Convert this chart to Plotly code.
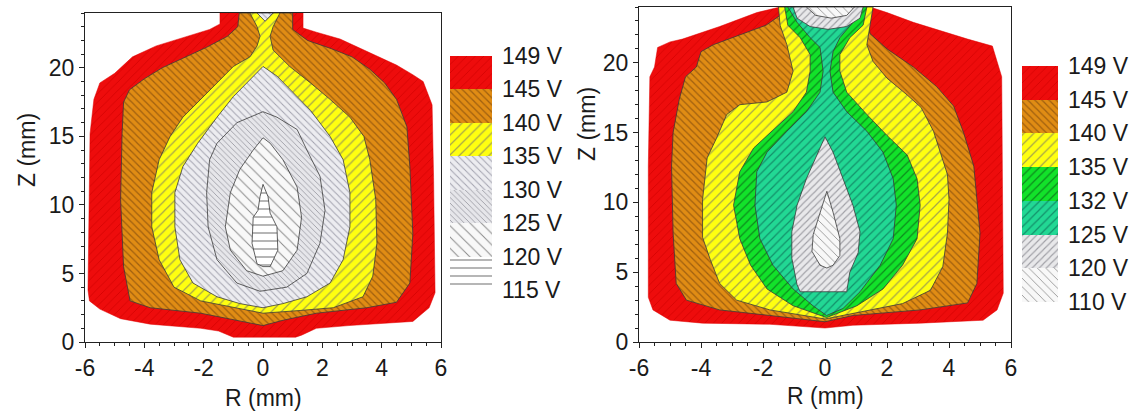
import plotly.graph_objects as go

# ================= DATA =================
# Left panel: contour outlines, R (mm) and Z (mm)
L149_R = [-1.45, -1.45, -1.8, -2.7, -3.6, -4.4, -5.0, -5.5, -5.7, -5.83, -5.85, -5.9, -5.85, -5.5, -4.8, -3.8, -2.1, -1.5, -1.0, 1.1, 1.3, 1.8, 2.9, 5.05, 5.6, 5.8, 5.75, 5.7, 5.4, 5.05, 4.5, 4.0, 3.3, 2.6, 1.8, 1.35, 1.35]
L149_Z = [24.0, 23.2, 22.8, 22.2, 21.6, 20.8, 19.6, 18.9, 17.7, 15.2, 10.4, 3.8, 3.0, 2.4, 1.7, 1.3, 1.0, 0.8, 0.35, 0.35, 0.5, 1.0, 1.2, 1.5, 2.5, 3.6, 12.0, 17.3, 19.0, 19.5, 20.2, 20.7, 21.4, 22.1, 22.6, 22.9, 24.0]

L145_R = [-0.8, -0.85, -1.2, -1.9, -2.7, -3.4, -4.0, -4.5, -4.7, -4.75, -4.8, -4.7, -4.48, -3.8, -2.1, -1.0, 0.0, 0.7, 1.8, 3.5, 4.5, 4.95, 5.05, 4.95, 4.85, 4.5, 4.1, 3.6, 3.0, 2.3, 1.5, 1.0, 1.0]
L145_Z = [24.0, 23.0, 22.3, 21.5, 20.7, 20.0, 19.2, 18.4, 17.5, 15.2, 10.4, 5.5, 3.0, 2.5, 2.1, 1.6, 1.2, 1.6, 2.1, 2.5, 2.9, 4.3, 7.9, 12.8, 15.7, 17.7, 18.9, 19.9, 20.8, 21.4, 22.0, 22.8, 24.0]

L140_R = [-0.44, -0.2, -0.1, -0.2, -0.44, -1.0, -1.55, -2.1, -2.7, -3.13, -3.5, -3.75, -3.75, -3.5, -3.0, -2.1, -1.0, 0.0, 1.25, 2.37, 3.37, 3.7, 3.84, 3.8, 3.6, 3.4, 2.93, 2.26, 1.6, 0.9, 0.34, 0.24, 0.34, 0.57]
L140_Z = [24.0, 23.0, 22.3, 21.6, 20.8, 20.1, 18.9, 17.7, 16.4, 15.0, 13.3, 10.9, 8.4, 6.0, 4.0, 3.0, 2.5, 2.1, 2.3, 2.5, 3.3, 4.8, 7.2, 10.4, 13.3, 15.0, 16.4, 17.7, 18.9, 20.1, 21.3, 22.3, 23.0, 24.0]

L135_R = [0.0, -0.44, -1.0, -1.55, -2.2, -2.7, -2.97, -2.97, -2.8, -2.36, -1.55, -0.78, 0.0, 0.67, 1.48, 2.26, 2.7, 2.93, 2.93, 2.7, 2.26, 1.6, 1.0, 0.47]
L135_Z = [20.1, 19.1, 17.9, 16.4, 14.5, 12.8, 10.9, 8.4, 6.0, 4.3, 3.3, 2.8, 2.5, 2.8, 3.3, 4.3, 6.0, 8.4, 10.9, 13.3, 15.0, 16.9, 18.2, 19.4]

L130_R = [0.0, -0.88, -1.55, -1.8, -1.9, -1.85, -1.55, -0.88, -0.1, 0.8, 1.48, 1.92, 2.09, 1.92, 1.48, 1.15, 0.47]
L130_Z = [16.8, 16.0, 14.5, 13.3, 10.9, 8.4, 6.0, 4.3, 3.7, 4.0, 5.0, 7.2, 9.6, 12.1, 14.0, 15.5, 16.4]

L125_R = [0.0, -0.33, -0.78, -1.1, -1.27, -1.1, -0.55, 0.0, 0.67, 1.15, 1.3, 1.15, 0.67, 0.24]
L125_Z = [14.9, 14.0, 12.6, 10.9, 8.4, 6.7, 5.2, 4.8, 5.2, 6.7, 9.1, 11.3, 13.3, 14.5]

L120_R = [0.0, -0.1, -0.17, -0.33, -0.37, -0.2, 0.0, 0.24, 0.5, 0.47, 0.24, 0.17]
L120_Z = [11.5, 10.6, 9.6, 9.1, 7.2, 5.7, 5.5, 5.5, 6.7, 8.4, 9.4, 10.6]

LTOP_R = [-0.2, 0.07, 0.34]
LTOP_Z = [24.0, 23.4, 24.0]

# Right panel
R149_R = [-1.45, -1.78, -2.2, -3.4, -4.6, -5.0, -5.4, -5.5, -5.65, -5.7, -5.7, -5.55, -5.0, -3.95, -1.78, 0.0, 0.9, 3.07, 5.1, 5.55, 5.75, 5.7, 5.55, 5.4, 4.6, 3.9, 2.85, 2.0, 1.45]
R149_Z = [24.0, 23.8, 23.6, 22.6, 21.7, 21.5, 21.1, 19.7, 19.0, 12.6, 3.2, 2.3, 1.56, 1.35, 1.27, 1.0, 1.2, 1.35, 1.56, 2.3, 3.5, 19.0, 20.2, 21.2, 21.7, 22.2, 22.9, 23.6, 24.0]

R145_R = [-1.45, -1.9, -2.75, -3.6, -4.0, -4.15, -4.5, -4.7, -4.9, -4.95, -4.9, -4.8, -4.47, -3.4, -1.78, 0.0, 0.9, 3.07, 4.6, 4.9, 5.0, 4.8, 4.47, 4.15, 3.6, 2.85, 2.0, 1.45, 1.4]
R145_Z = [23.4, 22.7, 22.0, 21.3, 20.8, 19.7, 19.0, 17.4, 15.0, 12.6, 7.8, 4.2, 3.0, 2.3, 1.9, 1.45, 1.9, 2.3, 2.8, 4.2, 7.8, 12.6, 15.0, 16.9, 18.3, 19.7, 21.0, 22.1, 23.0]

R140_R = [-1.5, -1.45, -1.23, -1.03, -1.23, -1.87, -2.75, -3.17, -3.5, -3.8, -3.95, -3.95, -3.7, -3.4, -2.85, -1.78, 0.0, 1.45, 2.5, 3.4, 3.8, 3.95, 4.0, 3.95, 3.75, 3.5, 3.1, 2.65, 2.0, 1.55, 1.35, 1.45, 1.55]
R140_Z = [24.0, 22.7, 21.3, 19.4, 17.9, 17.2, 17.0, 16.3, 14.6, 13.2, 10.2, 7.5, 5.9, 4.2, 3.0, 2.3, 1.65, 2.3, 2.75, 3.7, 5.4, 7.8, 10.2, 12.0, 13.4, 15.1, 16.8, 17.7, 18.9, 20.1, 21.3, 22.7, 24.0]

R135_R = [-1.3, -1.2, -0.8, -0.48, -0.48, -0.6, -1.03, -1.7, -2.3, -2.75, -2.95, -2.75, -2.4, -1.87, -1.03, 0.05, 1.03, 1.87, 2.5, 2.97, 3.07, 2.97, 2.65, 2.0, 1.35, 0.7, 0.48, 0.48, 0.8, 1.23, 1.35]
R135_Z = [24.0, 22.7, 21.8, 20.6, 19.4, 17.9, 16.5, 15.1, 13.9, 12.2, 9.8, 7.4, 5.5, 3.8, 2.6, 1.75, 2.6, 3.8, 5.5, 7.4, 9.8, 11.7, 13.4, 14.8, 16.3, 17.9, 19.4, 20.6, 21.8, 22.7, 24.0]

R132_R = [-1.2, -0.9, -0.48, -0.16, -0.06, -0.16, -0.6, -1.23, -1.87, -2.2, -2.26, -2.1, -1.68, -1.03, -0.39, 0.05, 0.58, 1.13, 1.78, 2.2, 2.3, 2.2, 1.87, 1.35, 0.7, 0.26, 0.16, 0.26, 0.48, 0.9, 1.13]
R132_Z = [24.0, 22.9, 21.8, 21.1, 19.4, 17.9, 16.5, 15.1, 13.6, 12.2, 9.8, 7.4, 5.5, 3.8, 2.6, 1.9, 2.4, 3.6, 5.5, 7.4, 9.8, 11.7, 13.6, 15.1, 16.5, 17.9, 19.4, 20.8, 21.8, 22.9, 24.0]

R125_R = [0.0, -0.27, -0.6, -0.9, -1.07, -1.07, -0.9, -0.8, -0.06, 0.7, 0.8, 1.07, 1.13, 0.9, 0.58, 0.26]
R125_Z = [14.7, 13.4, 11.7, 9.8, 7.9, 6.0, 4.1, 3.6, 3.6, 3.6, 5.0, 6.4, 7.9, 9.8, 11.7, 13.6]

R120_R = [0.06, -0.16, -0.38, -0.42, -0.16, 0.06, 0.26, 0.48, 0.48, 0.26]
R120_Z = [10.8, 9.3, 7.7, 6.5, 5.5, 5.3, 5.5, 6.2, 7.4, 9.3]

RTOP125_R = [-1.03, -0.9, -0.48, 0.1, 0.7, 1.13, 1.23]
RTOP125_Z = [24.0, 23.2, 22.6, 22.4, 22.6, 23.2, 24.0]
RTOP120_R = [-0.6, -0.3, 0.2, 0.7, 0.95]
RTOP120_Z = [24.0, 23.4, 23.2, 23.4, 24.0]

# Legend labels (contour levels)
LEFT_LEVELS = ["149 V", "145 V", "140 V", "135 V", "130 V", "125 V", "120 V", "115 V"]
RIGHT_LEVELS = ["149 V", "145 V", "140 V", "135 V", "132 V", "125 V", "120 V", "110 V"]

R_TICKS = [-6, -4, -2, 0, 2, 4, 6]
R_TICKTEXT = ["-6", "-4", "-2", "0", "2", "4", "6"]
Z_TICKS = [0, 5, 10, 15, 20]
Z_TICKTEXT = ["0", "5", "10", "15", "20"]

# ================= STYLES =================
S_RED = dict(bg="#ee0c0c", fg="#d00000", shape="/", size=6, sol=0.12, line="#e00000", lw=0.5)
S_ORG = dict(bg="#e08c14", fg="#a0600f", shape="\\", size=5, sol=0.25, line="#3a3a3a", lw=0.8)
S_YEL = dict(bg="#ffff10", fg="#a8a848", shape="/", size=7, sol=0.18, line="#3a3a3a", lw=0.8)
S_G135 = dict(bg="#ececf0", fg="#a4a4b0", shape="\\", size=5, sol=0.2, line="#3a3a3a", lw=0.8)
S_G130 = dict(bg="#e6e6ea", fg="#9c9ca4", shape="\\", size=4, sol=0.22, line="#3a3a3a", lw=0.8)
S_G125 = dict(bg="#f8f8f8", fg="#8a8a8a", shape="\\", size=8, sol=0.12, line="#3a3a3a", lw=0.8)
S_H120 = dict(bg="#ffffff", fg="#666666", shape="-", size=8, sol=0.12, line="#3a3a3a", lw=0.8)
S_GRN = dict(bg="#12e22a", fg="#0c8a1c", shape="/", size=6, sol=0.2, line="#3a3a3a", lw=0.8)
S_TEAL = dict(bg="#22d894", fg="#13906a", shape="/", size=6, sol=0.2, line="#3a3a3a", lw=0.8)
S_RG125 = dict(bg="#e8e8ea", fg="#a0a0a6", shape="/", size=5, sol=0.22, line="#3a3a3a", lw=0.8)
S_RG120 = dict(bg="#f8f8f8", fg="#909090", shape="\\", size=6, sol=0.14, line="#3a3a3a", lw=0.8)

FONT = "Liberation Sans, Arial, sans-serif"
TXT = "#1a1a1a"
FS = 23

fig = go.Figure()


def poly(R, Z, st, xa, ya):
    fig.add_trace(go.Scatter(
        x=list(R) + [R[0]], y=list(Z) + [Z[0]], mode="lines", fill="toself",
        fillcolor=st["bg"],
        fillpattern=dict(shape=st["shape"], fgcolor=st["fg"], bgcolor=st["bg"],
                         size=st["size"], solidity=st["sol"], fillmode="replace"),
        line=dict(color=st["line"], width=st["lw"]),
        xaxis=xa, yaxis=ya, hoverinfo="skip", showlegend=False))


left_layers = [(L149_R, L149_Z, S_RED), (L145_R, L145_Z, S_ORG), (L140_R, L140_Z, S_YEL),
               (L135_R, L135_Z, S_G135), (L130_R, L130_Z, S_G130), (L125_R, L125_Z, S_G125),
               (L120_R, L120_Z, S_H120), (LTOP_R, LTOP_Z, S_G135)]
for R, Z, st in left_layers:
    poly(R, Z, st, "x", "y")

right_layers = [(R149_R, R149_Z, S_RED), (R145_R, R145_Z, S_ORG), (R140_R, R140_Z, S_YEL),
                (R135_R, R135_Z, S_GRN), (R132_R, R132_Z, S_TEAL), (R125_R, R125_Z, S_RG125),
                (R120_R, R120_Z, S_RG120), (RTOP125_R, RTOP125_Z, S_RG125), (RTOP120_R, RTOP120_Z, S_RG120)]
for R, Z, st in right_layers:
    poly(R, Z, st, "x2", "y2")

# legends as stacked swatch bars
left_leg_styles = [S_RED, S_ORG, S_YEL, S_G135, S_G130, S_G125, S_H120]
right_leg_styles = [S_RED, S_ORG, S_YEL, S_GRN, S_TEAL, S_RG125, S_RG120]
for styles, xa, ya in [(left_leg_styles, "x3", "y3"), (right_leg_styles, "x4", "y4")]:
    for k, st in enumerate(styles):
        fig.add_trace(go.Bar(
            x=[0], y=[1], base=[k], width=1,
            marker=dict(color=st["bg"], line=dict(width=0),
                        pattern=dict(shape=st["shape"], fgcolor=st["fg"], bgcolor=st["bg"],
                                     size=st["size"], solidity=st["sol"], fillmode="replace")),
            xaxis=xa, yaxis=ya, hoverinfo="skip", showlegend=False))

tickfont = dict(family=FONT, size=FS, color=TXT)
ax_common = dict(showline=True, linecolor="#222", linewidth=1, mirror=True, showgrid=False,
                 zeroline=False, ticks="outside", ticklen=5, tickcolor="#222", tickfont=tickfont,
                 automargin=False)
xcommon = dict(ax_common, range=[-6, 6], tickmode="array", tickvals=R_TICKS, ticktext=R_TICKTEXT,
               minor=dict(tickmode="linear", tick0=-6, dtick=0.5, ticks="outside", ticklen=3,
                          tickcolor="#222", showgrid=False))
ycommon = dict(ax_common, range=[0, 24], tickmode="array", tickvals=Z_TICKS, ticktext=Z_TICKTEXT,
               minor=dict(tickmode="linear", tick0=0, dtick=1, ticks="outside", ticklen=3,
                          tickcolor="#222", showgrid=False))

H = 414.0
W = 1132.0


def px(x):
    return x / W


def py(y):
    return 1 - y / H


leg_y = dict(tickmode="array", tickvals=list(range(len(LEFT_LEVELS))), showgrid=False,
             zeroline=False, showline=False, ticks="", side="right", tickfont=tickfont,
             ticklabelstandoff=9, range=[7, 0], fixedrange=True, automargin=False)
leg_x = dict(range=[-0.5, 0.5], visible=False, fixedrange=True, automargin=False)

fig.update_layout(
    width=1132, height=414, margin=dict(l=0, r=0, t=0, b=0, autoexpand=False),
    paper_bgcolor="white", plot_bgcolor="rgba(0,0,0,0)",
    barmode="overlay", bargap=0, hovermode=False,
    font=dict(family=FONT, size=FS, color=TXT),
    xaxis=dict(xcommon, domain=[px(85), px(441)], anchor="y"),
    yaxis=dict(ycommon, domain=[py(342), py(13)], anchor="x"),
    xaxis2=dict(xcommon, domain=[px(639), px(1011)], anchor="y2"),
    yaxis2=dict(ycommon, domain=[py(342), py(7)], anchor="x2"),
    xaxis3=dict(leg_x, domain=[px(450), px(492)], anchor="y3"),
    yaxis3=dict(leg_y, ticktext=LEFT_LEVELS, domain=[py(290), py(56)], anchor="x3"),
    xaxis4=dict(leg_x, domain=[px(1022), px(1058)], anchor="y4"),
    yaxis4=dict(leg_y, ticktext=RIGHT_LEVELS, domain=[py(302), py(66)], anchor="x4"),
)

titles = [("Z (mm)", 27, 150, -90), ("R (mm)", 263, 398, 0),
          ("Z (mm)", 587, 124, -90), ("R (mm)", 825, 396, 0)]
for t, x, y, ang in titles:
    fig.add_annotation(text=t, x=px(x), y=py(y), xref="paper", yref="paper", showarrow=False,
                       textangle=ang, font=dict(family=FONT, size=FS, color=TXT),
                       xanchor="center", yanchor="middle")

fig.write_html("out.html", config={"displayModeBar": False, "staticPlot": True},
               post_script="document.body.style.margin='0';document.body.style.padding='0';")
